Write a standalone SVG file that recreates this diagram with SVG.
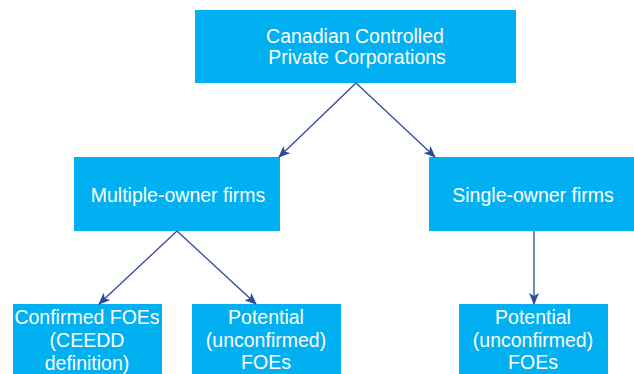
<svg xmlns="http://www.w3.org/2000/svg" width="634" height="374" viewBox="0 0 634 374">
<defs>
<style>
.box{fill:#00B0F0;}
.t{font-family:"Liberation Sans",Arial,sans-serif;font-size:19.5px;fill:#FFFFFF;text-anchor:middle;}
.c{stroke:#2E4A9A;stroke-width:1.3;fill:none;marker-end:url(#ah);}
</style>
<marker id="ah" viewBox="0 0 12 10" refX="11" refY="5" markerWidth="12" markerHeight="10" markerUnits="userSpaceOnUse" orient="auto">
<path d="M0,0 L12,5 L0,10 L3,5 Z" fill="#2E4A9A"/>
</marker>
</defs>
<rect width="634" height="374" fill="#FFFFFF"/>
<g id="n-ccpc">
<rect class="box" x="195" y="10" width="321" height="73"/>
<text class="t" x="355" y="43">Canadian Controlled</text>
<text class="t" x="357" y="64">Private Corporations</text>
</g>
<g id="n-multiple">
<rect class="box" x="74" y="157" width="206" height="74"/>
<text class="t" x="178" y="202">Multiple-owner firms</text>
</g>
<g id="n-single">
<rect class="box" x="429" y="157" width="205" height="74"/>
<text class="t" x="533" y="202">Single-owner firms</text>
</g>
<g id="n-confirmed">
<rect class="box" x="13" y="304" width="149" height="70"/>
<text class="t" x="87" y="324">Confirmed FOEs</text>
<text class="t" x="87" y="347">(CEEDD</text>
<text class="t" x="87" y="370">definition)</text>
</g>
<g id="n-potential1">
<rect class="box" x="192" y="304" width="149" height="70"/>
<text class="t" x="266" y="324">Potential</text>
<text class="t" x="266" y="347">(unconfirmed)</text>
<text class="t" x="266" y="369">FOEs</text>
</g>
<g id="n-potential2">
<rect class="box" x="459" y="304" width="149" height="70"/>
<text class="t" x="533" y="324">Potential</text>
<text class="t" x="533" y="347">(unconfirmed)</text>
<text class="t" x="533" y="369">FOEs</text>
</g>
<g id="connectors">
<line class="c" x1="356" y1="83" x2="279" y2="157"/>
<line class="c" x1="356" y1="83" x2="435" y2="157"/>
<line class="c" x1="177" y1="231" x2="99" y2="304"/>
<line class="c" x1="177" y1="231" x2="256" y2="304"/>
<line class="c" x1="534" y1="231" x2="534" y2="304"/>
</g>
</svg>
